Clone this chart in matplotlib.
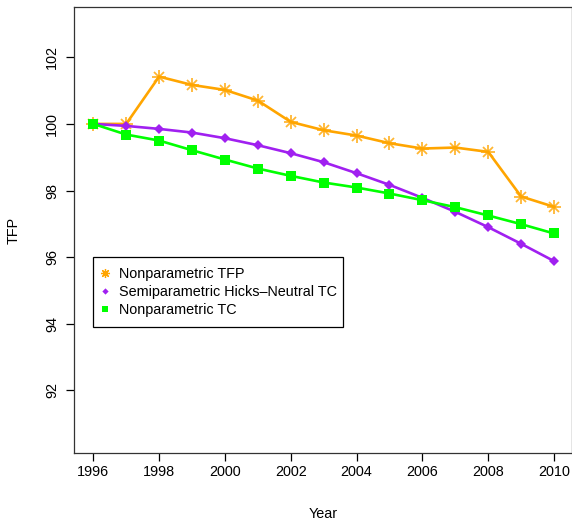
import matplotlib
matplotlib.use("Agg")
import matplotlib.pyplot as plt
from matplotlib.lines import Line2D
from matplotlib.patches import Rectangle

plt.rcParams['font.family'] = ['Liberation Sans', 'DejaVu Sans']

years = [1996, 1997, 1998, 1999, 2000, 2001, 2002, 2003,
         2004, 2005, 2006, 2007, 2008, 2009, 2010]

tfp_nonparam = [100.00, 100.00, 101.42, 101.17, 101.02, 100.70, 100.06, 99.81,
                99.65, 99.42, 99.26, 99.29, 99.16, 97.82, 97.51]
tc_semiparam = [100.00, 99.94, 99.85, 99.74, 99.57, 99.36, 99.12, 98.85,
                98.52, 98.17, 97.78, 97.36, 96.90, 96.40, 95.88]
tc_nonparam = [100.00, 99.68, 99.50, 99.21, 98.93, 98.66, 98.44, 98.24,
               98.09, 97.91, 97.71, 97.50, 97.25, 96.99, 96.71]

labels = ["Nonparametric TFP",
          "Semiparametric Hicks\u2013Neutral TC",
          "Nonparametric TC"]

x_ticks = [1996, 1998, 2000, 2002, 2004, 2006, 2008, 2010]
y_ticks = [92, 94, 96, 98, 100, 102]

ORANGE = "#FFA500"
PURPLE = "#A020F0"
GREEN = "#00FF00"
FS = 10.4

W, H = 572, 520
fig = plt.figure(figsize=(W / 100, H / 100), dpi=100)
ax = fig.add_axes([74 / W, 1 - 453.3 / H, (571.5 - 74) / W, (453.3 - 7) / H])

lw = 1.9
# asterisk marker: a '+' overlaid with an 'x'
ax.plot(years, tfp_nonparam, color=ORANGE, lw=lw, zorder=2)
ax.plot(years, tfp_nonparam, ls="none", marker="+", ms=10.5, mew=1.3,
        color=ORANGE, alpha=0.8, zorder=2)
ax.plot(years, tfp_nonparam, ls="none", marker="x", ms=7.5, mew=1.3,
        color=ORANGE, alpha=0.8, zorder=2)

ax.plot(years, tc_semiparam, color=PURPLE, lw=lw, marker="D", ms=4.9,
        mew=0, zorder=3)
ax.plot(years, tc_nonparam, color=GREEN, lw=lw, marker="s", ms=7.4,
        mew=0, zorder=4)

ax.set_xlim(1995.414, 2010.53)
ax.set_ylim(90.11, 103.51)
ax.set_xticks(x_ticks)
ax.set_yticks(y_ticks)
ax.set_xticklabels([str(v) for v in x_ticks], fontsize=FS)
ax.set_yticklabels([str(v) for v in y_ticks], fontsize=FS, rotation=90,
                   va="center")
ax.tick_params(axis="both", direction="out", length=5.8, width=0.9,
               color="black")
ax.tick_params(axis="x", pad=2.3)
ax.tick_params(axis="y", pad=4.8)
for s in ax.spines.values():
    s.set_linewidth(0.9)
    s.set_color("#333333")

fig.text(323 / W, 1 - 514 / H, "Year", ha="center", va="center", fontsize=FS)
fig.text(14 / W, 1 - 230 / H, "TFP", ha="center", va="center",
         rotation=90, fontsize=FS)

# legend: entries without their own frame, box drawn separately
h_ast = Line2D([], [], ls="none", marker=(8, 2, 0), ms=6.5, mew=0.9,
               color=ORANGE)
h_dia = Line2D([], [], ls="none", marker="D", ms=3.2, mew=0, color=PURPLE)
h_sq = Line2D([], [], ls="none", marker="s", ms=5, mew=0, color=GREEN)
box = Rectangle((93 / W, 1 - 327 / H), (343 - 93) / W, (327 - 257) / H,
                transform=fig.transFigure, facecolor="white",
                edgecolor="black", lw=0.9, zorder=5, clip_on=False)
ax.add_patch(box)
leg = ax.legend([h_ast, h_dia, h_sq], labels, loc="upper left",
                bbox_to_anchor=(98.6 / W, 1 - 267.5 / H),
                bbox_transform=fig.transFigure, fontsize=FS,
                frameon=False, borderpad=0, handlelength=0.88,
                handletextpad=0.5, labelspacing=0.25, borderaxespad=0)
leg.set_zorder(6)

fig.savefig("out.png", dpi=100)
